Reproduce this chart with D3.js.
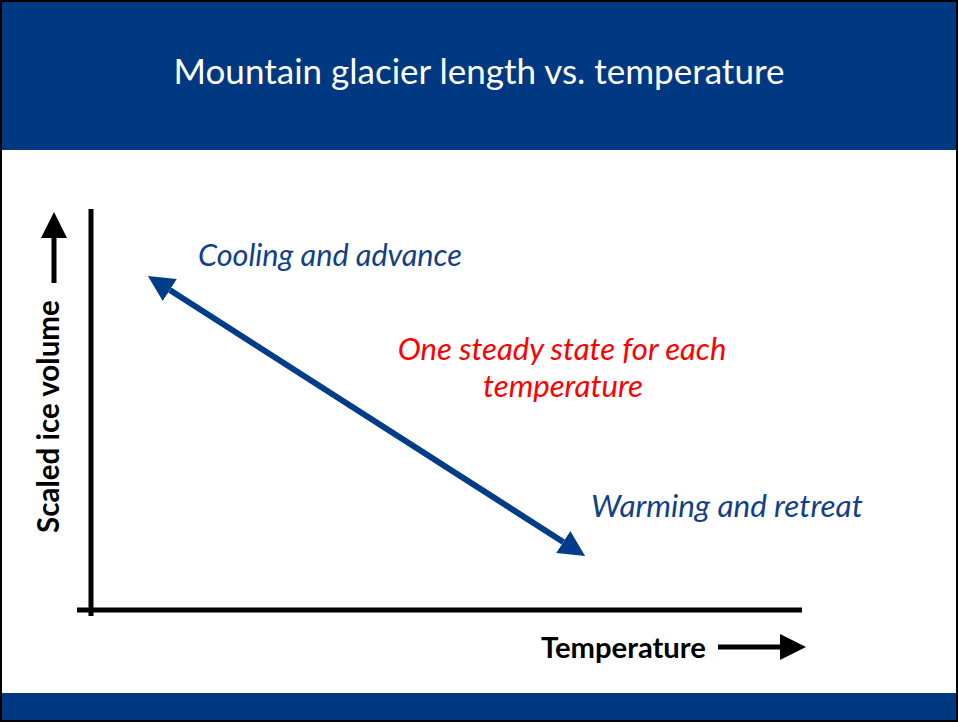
<!DOCTYPE html>
<html>
<head>
<meta charset="utf-8">
<script src="https://cdn.jsdelivr.net/npm/d3@7"></script>
<style>
  body { margin: 0; background: #fff; }
  svg { display: block; }
</style>
</head>
<body>
<svg></svg>
<script>
var width = 958;
var height = 722;

// conceptual data: one steady state for each temperature
var temperature = [0.08, 0.695];
var iceVolume = [0.835, 0.135];
var labels = ["Cooling and advance", "Warming and retreat"];
var noteLines = ["One steady state for each", "temperature"];
var title = "Mountain glacier length vs. temperature";
var xLabel = "Temperature";
var yLabel = "Scaled ice volume";

var navy = "#003882";
var textBlue = "#123f8a";
var font = "Lato, 'Open Sans', sans-serif";
var HEAD = 26;

var svg = d3.select("svg")
    .attr("width", width)
    .attr("height", height);

var defs = svg.append("defs");
function marker(id, col) {
  defs.append("marker")
      .attr("id", id)
      .attr("viewBox", "0 0 10 10")
      .attr("refX", 0).attr("refY", 5)
      .attr("markerUnits", "userSpaceOnUse")
      .attr("markerWidth", HEAD).attr("markerHeight", 26)
      .attr("orient", "auto-start-reverse")
    .append("path")
      .attr("d", "M0,0L10,5L0,10Z")
      .attr("fill", col);
}
marker("headBlue", "#003d88");
marker("headBlack", "black");

// header and footer bands
svg.append("rect").attr("x", 0).attr("y", 0).attr("width", width).attr("height", 150).attr("fill", navy);
svg.append("rect").attr("x", 0).attr("y", 693).attr("width", width).attr("height", 27).attr("fill", navy);
svg.append("rect").attr("x", 1).attr("y", 1).attr("width", width - 2).attr("height", height - 2)
    .attr("fill", "none").attr("stroke", "black").attr("stroke-width", 2);

// fit a text to a measured width
function fit(t, target) {
  var w = t.node().getComputedTextLength();
  var fs = parseFloat(t.attr("font-size"));
  t.attr("font-size", fs * target / w);
  return t;
}

// pull both ends of a segment in by the arrowhead length
function shorten(p0, p1, a, b) {
  var dx = p1[0] - p0[0], dy = p1[1] - p0[1];
  var L = Math.sqrt(dx * dx + dy * dy);
  var ux = dx / L, uy = dy / L;
  return [[p0[0] + ux * a, p0[1] + uy * a], [p1[0] - ux * b, p1[1] - uy * b]];
}

fit(svg.append("text")
    .attr("x", 479).attr("y", 84)
    .attr("text-anchor", "middle")
    .attr("font-family", font)
    .attr("font-size", 34)
    .attr("fill", "white")
    .text(title), 611);

var x = d3.scaleLinear().domain([0, 1]).range([91, 802]);
var y = d3.scaleLinear().domain([0, 1]).range([610, 210]);

var g = svg.append("g");

// axes drawn as plain lines
g.append("line")
    .attr("x1", x(0)).attr("x2", x(0))
    .attr("y1", y(1) - 1).attr("y2", y(0) + 6)
    .attr("stroke", "black").attr("stroke-width", 5);
g.append("line")
    .attr("x1", x(0) - 14).attr("x2", x(1))
    .attr("y1", y(0)).attr("y2", y(0))
    .attr("stroke", "black").attr("stroke-width", 5);

// steady state arrow
var pts = temperature.map(function(t, i) { return [x(t), y(iceVolume[i])]; });
var seg = shorten(pts[0], pts[1], HEAD, HEAD);
g.append("line")
    .attr("x1", seg[0][0]).attr("y1", seg[0][1])
    .attr("x2", seg[1][0]).attr("y2", seg[1][1])
    .attr("stroke", "#003d88").attr("stroke-width", 6)
    .attr("marker-start", "url(#headBlue)")
    .attr("marker-end", "url(#headBlue)");

// annotations
fit(g.append("text")
    .attr("x", 198).attr("y", 266)
    .attr("font-family", font).attr("font-style", "italic")
    .attr("font-size", 26).attr("fill", textBlue)
    .text(labels[0]), 264);
fit(g.append("text")
    .attr("x", 591).attr("y", 517)
    .attr("font-family", font).attr("font-style", "italic")
    .attr("font-size", 26).attr("fill", textBlue)
    .text(labels[1]), 272);

var note = [[562, 360, 329], [563, 397, 160]];
noteLines.forEach(function(s, i) {
  fit(g.append("text")
      .attr("x", note[i][0]).attr("y", note[i][1])
      .attr("text-anchor", "middle")
      .attr("font-family", font).attr("font-style", "italic")
      .attr("font-size", 26).attr("fill", "#ff0000")
      .text(s), note[i][2]);
});

// axis titles with arrows
fit(g.append("text")
    .attr("x", 541).attr("y", 658)
    .attr("font-family", font).attr("font-weight", "bold")
    .attr("font-size", 26).attr("fill", "black")
    .text(xLabel), 165);
g.append("line")
    .attr("x1", 718).attr("x2", 806 - HEAD).attr("y1", 647).attr("y2", 647)
    .attr("stroke", "black").attr("stroke-width", 5)
    .attr("marker-end", "url(#headBlack)");

fit(g.append("text")
    .attr("transform", "translate(59,533) rotate(-90)")
    .attr("font-family", font).attr("font-weight", "bold")
    .attr("font-size", 26).attr("fill", "black")
    .text(yLabel), 233);
g.append("line")
    .attr("x1", 54).attr("x2", 54).attr("y1", 283).attr("y2", 212 + HEAD)
    .attr("stroke", "black").attr("stroke-width", 5)
    .attr("marker-end", "url(#headBlack)");
</script>
</body>
</html>
